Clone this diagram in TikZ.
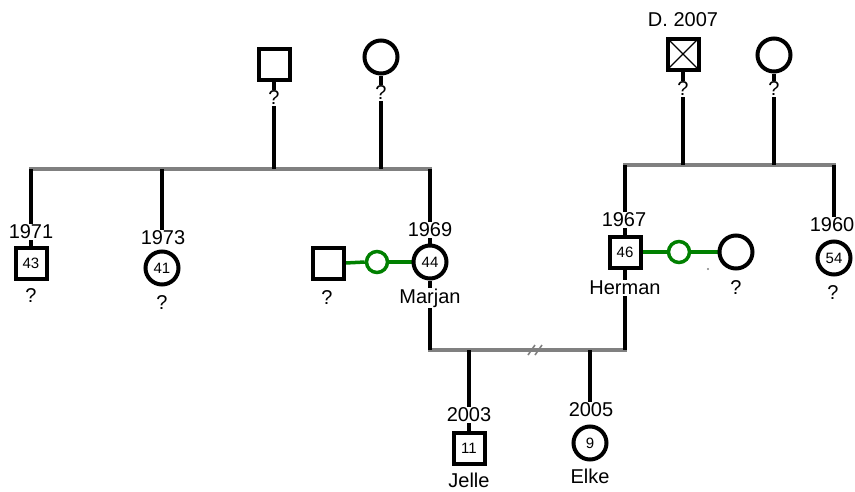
\documentclass[tikz,border=0pt]{standalone}
\usepackage{fontspec}
\setmainfont{Liberation Sans}
\definecolor{matecol}{RGB}{0,128,0}
\definecolor{barcol}{RGB}{128,128,128}
\pgfdeclarelayer{back}
\pgfsetlayers{back,main}
\begin{document}
\begin{tikzpicture}[x=1pt,y=-1pt,
  male/.style={draw=black, line width=4pt, fill=white, rectangle, minimum size=31pt, inner sep=0pt,
    font=\fontsize{15}{15}\selectfont},
  female/.style={draw=black, line width=4pt, fill=white, circle, minimum size=33pt, inner sep=0pt,
    font=\fontsize{15}{15}\selectfont},
  link/.style={draw=matecol, line width=3.5pt, fill=white, circle, minimum size=21pt, inner sep=0pt},
  lbl/.style={fill=white, inner sep=1pt, font=\fontsize{20}{20}\selectfont},
  descent/.style={line width=4.5pt, black},
  lowdescent/.style={line width=3.5pt, black},
  sibbar/.style={line width=4.5pt, barcol},
  lowbar/.style={line width=4pt, barcol},
  mate/.style={line width=3.5pt, matecol}]
\useasboundingbox (0,0) rectangle (855,491);

% ---- symbols ----
% paternal side
\node[male]   (gfL) at (274,64) {};
\node[female] (gmL) at (381,57) {};
\node[male]   (c1971) at (31,263) {43};
\node[female] (c1973) at (162,268) {41};
\node[female] (marjan) at (430,262) {44};
\node[male]   (spM) at (328,263) {};
\node[link]   (gM) at (377,262) {};
% maternal side
\node[male]   (gfR) at (683,54) {};
\draw[line width=1.2pt] ([shift={(2,2)}]gfR.north west) -- ([shift={(-2,-2)}]gfR.south east)
                        ([shift={(-2,2)}]gfR.north east) -- ([shift={(2,-2)}]gfR.south west);
\node[female] (gmR) at (774,55) {};
\node[male]   (herman) at (625,252) {46};
\node[link]   (gH) at (679,252) {};
\node[female] (spH) at (736,252) {};
\node[female] (c1960) at (834,258) {54};
% children
\node[male]   (jelle) at (469,448) {11};
\node[female] (elke) at (590,443) {9};

% ---- bar ends ----
\coordinate (bLa) at (29,169);
\coordinate (bLb) at (432,169);
\coordinate (bRa) at (623,165);
\coordinate (bRb) at (836,165);
\coordinate (bCa) at (428,350);
\coordinate (bCb) at (627,350);
\coordinate (div) at (537,350);

% ---- labels ----
\node[lbl] (qgfL) at (274,98) {?};
\node[lbl] (qgmL) at (381,93) {?};
\node[lbl] (y1971) at (31,232) {1971};
\node[lbl] (q1971) at (31,296) {?};
\node[lbl] (y1973) at (163,238) {1973};
\node[lbl] (q1973) at (162,303) {?};
\node[lbl] (y1969) at (430,230) {1969};
\node[lbl] (nMarjan) at (430,298) {Marjan};
\node[lbl] (qspM) at (327,298) {?};
\node[lbl] (dgfR) at (683,20) {D. 2007};
\node[lbl] (qgfR) at (683,89) {?};
\node[lbl] (qgmR) at (774,89) {?};
\node[lbl] (y1967) at (624,220) {1967};
\node[lbl] (nHerman) at (625,288) {Herman};
\node[lbl] (qspH) at (736,288) {?};
\node[lbl] (y1960) at (832,225) {1960};
\node[lbl] (q1960) at (833,293) {?};
\node[lbl] (y2003) at (469,415) {2003};
\node[lbl] (nJelle) at (469,480) {Jelle};
\node[lbl] (y2005) at (591,410) {2005};
\node[lbl] (nElke) at (590,476) {Elke};
\node[circle, fill=barcol, inner sep=0.8pt] (dot) at (708,269) {};

% ---- connectors, behind labels and symbols ----
\begin{pgfonlayer}{back}
  % sibling bars
  \draw[sibbar] (bLa) -- (bLb);
  \draw[sibbar] (bRa) -- (bRb);
  \draw[lowbar] (bCa) -- (bCb);
  \draw[barcol, line width=1.6pt] ([shift={(-9,5)}]div) -- ([shift={(-2,-5)}]div)
                                  ([shift={(-2,5)}]div) -- ([shift={(5,-5)}]div);
  % parents to sibling bars
  \draw[descent] (gfL.south) -- (gfL.south |- bLa);
  \draw[descent] (gmL.south) -- (gmL.south |- bLa);
  \draw[descent] (gfR.south) -- (gfR.south |- bRa);
  \draw[descent] (gmR.south) -- (gmR.south |- bRa);
  % sibling bars to children
  \draw[descent] (c1971.north |- bLa) -- (c1971.north);
  \draw[descent] (c1973.north |- bLa) -- (c1973.north |- y1973.north);
  \draw[descent] (marjan.north |- bLa) -- (marjan.north);
  \draw[descent] (herman.north |- bRa) -- (herman.north);
  \draw[descent] (c1960.north |- bRa) -- (c1960.north |- y1960.north);
  % couple lines
  \draw[mate] (spM.east) -- (gM.west);
  \draw[mate] (gM.east) -- (marjan.west);
  \draw[mate] (herman.east) -- (gH.west);
  \draw[mate] (gH.east) -- (spH.west);
  % couples down to the children's bar
  \draw[lowdescent] (marjan.south) -- (marjan.south |- bCa);
  \draw[lowdescent] (herman.south) -- (herman.south |- bCb);
  \draw[lowdescent] (jelle.north |- bCa) -- (jelle.north);
  \draw[lowdescent] (elke.north |- bCa) -- (elke.north |- y2005.north);
\end{pgfonlayer}
\end{tikzpicture}
\end{document}
